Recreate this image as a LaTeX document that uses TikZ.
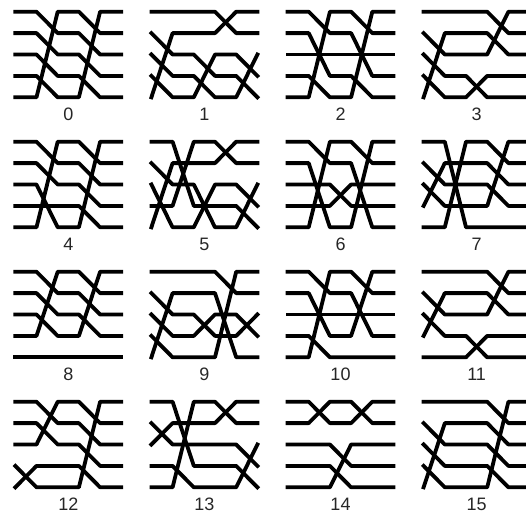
\documentclass[tikz,border=0pt]{standalone}
\usepackage{fontspec}
\setmainfont{Liberation Sans}

% one panel: #1 number, #2 column, #3 row, #4 wires (level at columns 0..5)
\newcommand{\wirepanel}[4]{%
  \begin{scope}[shift={(15.3+136.1*#2, 11.7+130*#3)}, x=21.2pt, y=-21.4pt]
    \foreach \a/\b/\c/\d/\e/\f in {#4}
      \draw[wire] (0,\a-1) -- (1,\b-1) -- (2,\c-1) -- (3,\d-1) -- (4,\e-1) -- (5,\f-1);
    \node[numlbl] (lbl#1) at (2.5,4.81) {#1};
  \end{scope}}

\begin{document}
\begin{tikzpicture}[x=1pt, y=-1pt,
    wire/.style={line width=3.8pt, line cap=rect, line join=round},
    numlbl/.style={font=\fontsize{18}{20}\selectfont, text=black!85, inner sep=0pt}]
  \clip (0,0) rectangle (526,520);
  \wirepanel{0}{0}{0}{1/1/2/2/3/3, 2/2/3/3/4/4, 3/3/4/4/5/5, 4/4/5/5/1/1, 5/5/1/1/2/2}
  \wirepanel{1}{1}{0}{1/1/1/1/2/2, 2/3/3/4/4/5, 3/4/4/5/5/3, 4/5/5/3/3/4, 5/2/2/2/1/1}
  \wirepanel{2}{2}{0}{1/1/2/2/4/4, 2/2/4/4/5/5, 3/3/3/3/3/3, 4/4/5/5/1/1, 5/5/1/1/2/2}
  \wirepanel{3}{3}{0}{1/1/1/1/2/2, 2/3/3/3/1/1, 3/4/4/5/5/5, 4/5/5/4/4/4, 5/2/2/2/3/3}
  \wirepanel{4}{0}{1}{1/1/2/2/3/3, 2/2/3/3/4/4, 3/3/5/5/1/1, 4/4/4/4/5/5, 5/5/1/1/2/2}
  \wirepanel{5}{1}{1}{1/1/4/4/4/5, 2/3/3/5/5/3, 3/5/5/3/3/4, 4/4/1/1/2/2, 5/2/2/2/1/1}
  \wirepanel{6}{2}{1}{1/1/2/2/5/5, 2/2/5/5/1/1, 3/3/3/4/4/4, 4/4/4/3/3/3, 5/5/1/1/2/2}
  \wirepanel{7}{3}{1}{1/1/5/5/5/5, 2/3/3/3/4/4, 3/4/4/4/1/1, 4/2/2/2/3/3, 5/5/1/1/2/2}
  \wirepanel{8}{0}{2}{1/1/2/2/3/3, 2/2/3/3/4/4, 3/3/4/4/1/1, 4/4/1/1/2/2, 5/5/5/5/5/5}
  \wirepanel{9}{1}{2}{1/1/1/1/2/2, 2/3/3/4/4/3, 3/4/4/3/3/4, 4/5/5/5/1/1, 5/2/2/2/5/5}
  \wirepanel{10}{2}{2}{1/1/2/2/4/4, 2/2/4/4/1/1, 3/3/3/3/3/3, 4/4/5/5/5/5, 5/5/1/1/2/2}
  \wirepanel{11}{3}{2}{1/1/1/1/2/2, 2/3/3/3/1/1, 3/4/4/5/5/5, 4/2/2/2/3/3, 5/5/5/4/4/4}
  \wirepanel{12}{0}{3}{1/1/2/2/3/3, 2/2/3/3/4/4, 3/3/1/1/2/2, 4/5/5/5/1/1, 5/4/4/4/5/5}
  \wirepanel{13}{1}{3}{1/1/4/4/4/5, 2/3/3/3/3/4, 3/2/2/2/1/1, 4/4/5/5/5/3, 5/5/1/1/2/2}
  \wirepanel{14}{2}{3}{1/1/2/2/1/1, 2/2/1/1/2/2, 3/3/3/4/4/4, 4/4/4/5/5/5, 5/5/5/3/3/3}
  \wirepanel{15}{3}{3}{1/1/1/1/2/2, 2/3/3/3/4/4, 3/4/4/4/5/5, 4/5/5/5/1/1, 5/2/2/2/3/3}
\end{tikzpicture}
\end{document}
